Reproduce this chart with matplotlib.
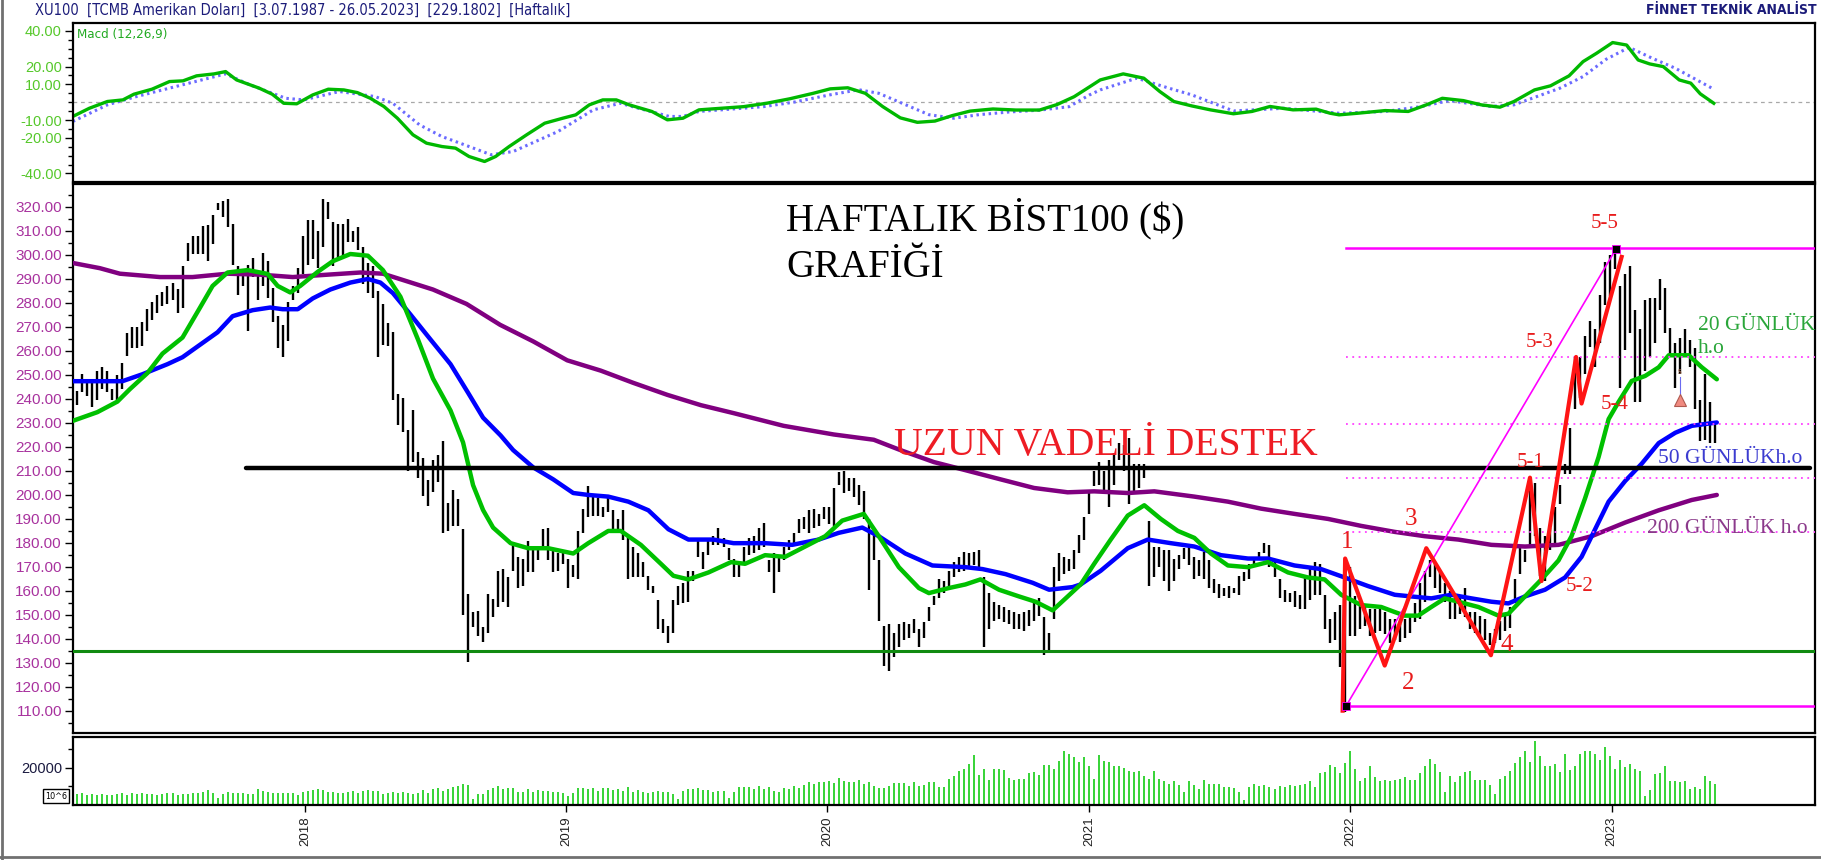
import numpy as np
import pandas as pd
import matplotlib
matplotlib.use("Agg")
import matplotlib.pyplot as plt
import matplotlib.dates as mdates
from matplotlib.ticker import FixedLocator, MultipleLocator, FuncFormatter
from matplotlib.lines import Line2D

first_week = pd.Timestamp("2017-02-17")

# weekly bars (high / low)
highs = [243.3, 250.2, 247.0, 248.0, 251.4, 253.2, 251.7, 244.0, 250.0, 255.0,
         267.4, 270.0, 270.0, 272.0, 277.3, 280.3, 283.3, 284.3, 287.0, 288.1,
         285.8, 295.1, 305.0, 307.7, 307.7, 312.0, 312.4, 316.6, 321.5, 322.5,
         323.3, 312.9, 295.1, 291.4, 295.9, 298.8, 291.4, 300.6, 297.3, 286.2,
         274.4, 270.7, 280.3, 287.0, 294.4, 307.7, 314.4, 314.4, 310.0, 323.3,
         321.8, 313.6, 312.9, 312.9, 315.1, 310.0, 311.4, 303.3, 296.6, 295.1,
         284.7, 279.6, 271.4, 267.7, 241.8, 240.3, 227.0, 235.4, 218.0, 215.1,
         206.2, 214.4, 216.6, 222.5, 196.6, 201.8, 198.0, 185.5, 158.6, 151.0,
         151.4, 144.7, 158.8, 156.6, 168.3, 169.0, 165.5, 179.1, 174.1, 173.4,
         180.5, 177.7, 177.0, 185.6, 186.3, 177.0, 175.5, 175.5, 173.4, 170.5,
         184.9, 194.2, 203.5, 199.9, 198.5, 194.9, 198.5, 193.5, 189.9, 193.5,
         182.7, 178.4, 175.5, 171.9, 166.2, 161.9, 156.1, 148.2, 145.3, 156.1,
         161.9, 163.3, 168.3, 168.3, 180.5, 176.2, 182.0, 182.7, 186.3, 182.0,
         177.7, 173.4, 171.2, 178.4, 182.0, 182.7, 186.3, 188.4, 172.6, 175.5,
         174.1, 178.4, 181.3, 184.1, 189.9, 190.6, 193.5, 194.2, 192.0, 194.9,
         194.9, 202.8, 209.3, 210.0, 207.1, 207.1, 204.2, 201.4, 189.9, 184.1,
         172.6, 145.3, 146.1, 142.5, 146.1, 146.8, 146.1, 148.2, 143.9, 146.8,
         153.2, 157.6, 164.7, 164.0, 168.3, 171.9, 174.1, 176.2, 175.5, 176.2,
         177.0, 165.5, 159.0, 155.4, 154.0, 153.2, 151.8, 151.1, 150.4, 151.1,
         151.8, 155.4, 156.8, 148.9, 142.5, 169.8, 175.5, 174.1, 173.4, 177.0,
         183.4, 190.6, 202.1, 210.0, 213.6, 210.0, 214.3, 217.2, 221.5, 220.8,
         223.6, 212.9, 212.9, 212.9, 189.2, 178.4, 178.4, 177.0, 177.0, 173.4,
         174.8, 177.7, 178.4, 174.1, 172.6, 176.2, 172.6, 164.7, 162.6, 161.1,
         161.9, 161.1, 166.2, 167.6, 171.2, 174.1, 176.2, 179.8, 179.1, 171.9,
         164.7, 160.4, 159.0, 159.7, 158.3, 165.5, 169.0, 171.9, 171.2, 158.3,
         148.2, 151.1, 154.0, 173.4, 169.8, 157.6, 155.4, 154.0, 152.5, 152.5,
         153.2, 151.1, 148.2, 148.2, 146.0, 148.2, 149.6, 154.7, 163.3, 168.3,
         172.6, 171.9, 167.6, 163.3, 159.7, 156.8, 158.3, 161.1, 151.1, 151.1,
         149.6, 148.2, 142.5, 143.9, 147.5, 149.6, 153.2, 164.7, 177.7, 177.0,
         207.1, 205.0, 186.3, 182.7, 186.3, 194.9, 204.2, 212.9, 228.0, 257.4,
         257.4, 266.0, 272.5, 268.9, 283.3, 296.9, 299.8, 301.2, 286.9, 291.9,
         295.5, 276.8, 268.9, 281.1, 281.8, 281.8, 289.7, 286.1, 269.6, 263.2,
         265.3, 268.9, 264.6, 261.0, 239.4, 250.2, 238.7, 230.1]
lows = [237.3, 242.8, 241.0, 236.6, 239.6, 244.0, 242.8, 239.6, 239.6, 244.0,
        258.0, 261.0, 261.0, 261.8, 268.4, 272.9, 275.9, 278.8, 279.5, 281.0,
        275.9, 278.0, 297.3, 300.3, 300.3, 300.3, 297.6, 304.4, 318.5, 315.9,
        311.4, 295.9, 283.3, 287.0, 268.4, 290.7, 281.0, 287.0, 281.8, 272.1,
        261.0, 257.3, 264.0, 281.0, 284.0, 292.1, 295.9, 298.1, 294.4, 303.3,
        315.1, 295.1, 298.1, 299.6, 305.5, 305.5, 301.8, 287.7, 284.0, 281.8,
        257.3, 262.5, 261.8, 239.6, 229.2, 226.2, 210.0, 213.6, 207.0, 199.6,
        195.1, 201.0, 205.5, 184.0, 184.7, 187.0, 187.0, 150.0, 130.3, 144.7,
        141.0, 138.8, 142.5, 149.0, 153.2, 155.4, 153.2, 168.3, 161.1, 161.9,
        167.6, 167.6, 172.6, 177.0, 172.6, 167.6, 168.3, 171.2, 161.1, 165.5,
        164.7, 184.1, 190.6, 191.3, 191.3, 190.6, 192.8, 185.6, 185.6, 181.3,
        164.7, 165.5, 165.5, 165.5, 160.4, 159.0, 143.9, 142.5, 138.2, 142.5,
        153.9, 154.7, 155.4, 164.0, 174.1, 169.0, 174.8, 179.1, 179.1, 178.4,
        172.6, 165.5, 165.5, 170.5, 174.8, 175.5, 177.0, 178.4, 167.6, 159.0,
        167.6, 172.6, 177.0, 179.8, 184.1, 185.6, 184.1, 186.3, 187.0, 189.9,
        187.7, 187.0, 204.2, 200.7, 201.4, 199.2, 195.6, 189.9, 160.4, 172.6,
        147.5, 128.8, 126.7, 132.4, 136.7, 139.6, 140.3, 142.5, 136.7, 140.3,
        147.5, 154.0, 156.8, 159.0, 160.4, 165.5, 167.6, 168.3, 169.8, 170.5,
        169.0, 136.7, 143.9, 147.5, 148.2, 146.8, 146.1, 143.9, 143.9, 143.2,
        145.3, 147.5, 149.6, 133.1, 134.6, 148.2, 164.0, 166.9, 168.3, 169.0,
        175.5, 181.3, 192.0, 203.5, 204.2, 201.4, 194.9, 204.2, 214.3, 210.0,
        196.3, 201.4, 202.8, 207.1, 161.9, 165.5, 169.8, 164.0, 159.7, 164.0,
        169.0, 173.4, 170.5, 164.7, 166.2, 164.7, 161.1, 159.0, 156.8, 157.6,
        156.8, 159.0, 158.3, 164.0, 164.7, 171.2, 173.4, 175.5, 169.8, 165.5,
        156.8, 155.4, 155.4, 153.2, 152.5, 152.5, 156.1, 158.3, 158.3, 143.9,
        138.2, 139.6, 128.1, 109.4, 141.0, 141.0, 143.9, 145.3, 141.0, 142.5,
        143.2, 141.8, 138.2, 139.6, 138.5, 140.3, 142.5, 146.8, 148.2, 155.4,
        165.5, 161.1, 159.0, 155.4, 148.2, 148.2, 150.4, 148.9, 143.9, 142.5,
        141.0, 139.6, 137.4, 138.2, 139.6, 143.2, 144.6, 154.7, 166.9, 171.9,
        177.7, 182.7, 166.2, 164.0, 177.0, 178.4, 196.3, 208.6, 208.6, 235.9,
        240.2, 250.2, 261.7, 253.1, 263.2, 279.0, 282.6, 294.0, 244.5, 260.3,
        267.5, 238.7, 238.7, 251.7, 257.4, 263.2, 276.8, 267.5, 258.8, 244.5,
        250.2, 258.8, 253.1, 235.9, 222.2, 222.9, 221.5, 221.5]

volume = [5800, 6200, 5600, 5800, 5600, 5800, 5200, 5600, 6000, 6200,
          5400, 6300, 5800, 6500, 6000, 6000, 5400, 5800, 6200, 6300,
          5600, 6000, 6000, 6300, 6200, 7200, 8000, 6600, 3800, 6000,
          6800, 6300, 6300, 6200, 6000, 5900, 8300, 7300, 7000, 6600,
          6500, 6600, 6200, 6200, 5600, 6700, 7300, 7800, 8600, 8000,
          7000, 7200, 6400, 6500, 6700, 7300, 6400, 7300, 8000, 7600,
          7600, 6000, 6300, 7000, 6600, 7200, 6300, 5800, 6500, 8000,
          6600, 8400, 9000, 7400, 8600, 9600, 10200, 11000, 10600, 3000,
          6000, 6000, 8200, 9000, 10400, 8500, 9200, 9200, 6800, 6800,
          8400, 6800, 7800, 7500, 7600, 7200, 7000, 6600, 5000, 6400,
          9000, 9000, 8700, 9000, 7300, 9000, 9000, 7800, 8400, 7500,
          9700, 7200, 8000, 6700, 6200, 7000, 7600, 6800, 7200, 6000,
          3400, 7600, 8600, 8300, 9000, 7800, 8200, 6700, 7600, 7300,
          4000, 6800, 9700, 9700, 9700, 8300, 10000, 8300, 9600, 7500,
          6800, 9000, 8800, 10000, 9300, 10800, 12400, 11400, 12400, 12300,
          13000, 12000, 14200, 13000, 12500, 12500, 13200, 11300, 12400, 10300,
          9000, 8900, 10300, 11700, 11700, 12000, 10300,
          12100, 10300, 10800, 12100, 12100, 9400, 9400, 13900, 15700, 18400,
          19300, 22000, 27000, 16200, 19300, 13300, 19300, 19300, 18700, 14400,
          13300, 13900, 13900, 16900, 17500, 16200, 21600, 21600, 19300, 23400,
          28800, 27400, 25600, 22900, 25600, 21100, 13900, 27000, 23800, 22900,
          21100, 21100, 19800, 18000, 17500, 18400, 15700, 13900, 18400, 13900,
          13000, 11200, 13000, 10800, 7200, 13000, 10800, 8500, 13300, 11200,
          11200, 11200, 9700, 9400, 9000, 6700, 2700, 9400, 11200, 10300,
          10800, 9400, 8500, 10300, 9400, 10800, 10300, 10800, 11200, 12600,
          9700, 16900, 17500, 21600, 20200, 16900, 22300, 29200, 19300, 12600,
          14400, 21100, 14800, 13000, 13300, 13000, 13300, 13900, 15100, 13300,
          13300, 16900, 21100, 24700, 22000, 17500, 7200, 15700, 12100, 15700,
          17500, 18400, 13300, 13300, 13300, 10800, 6100, 13900, 15700, 18400,
          22300, 25600, 28800, 22900, 34200, 26500, 21100, 21100, 22000, 17500,
          27400, 18700, 21100, 27400, 28800, 28800, 27400, 24100, 31300, 26500,
          19300, 24100, 20200, 22000, 19300, 18400, 4900, 7900, 16600, 16900,
          21100, 13000, 13000, 12100, 13000, 8500, 9700, 8500, 15700, 13000,
          11500]

# moving averages, read at selected weeks (week index from first_week)
ma20_wk = [-1, 4, 8, 10.5, 14, 17, 21, 24.5, 27, 30, 34, 38, 40, 42.5, 44.5, 48, 51, 54.5, 58, 61,
           64.5, 68, 71, 74.5, 77, 79, 81, 83, 86.5, 90, 94, 99, 102, 106, 108.5, 112.5, 116.5, 119,
           122, 126, 130.5, 133.3, 137.3, 141.3, 145.3, 149.3, 152.7, 157, 160, 164, 168, 170, 174,
           177.3, 180.3, 184, 188, 191.3, 194.7, 197.3, 200.3, 203, 206.3, 209.7, 213, 216.3, 219.7,
           223, 226.3, 229.7, 233.7, 237.7, 241.7, 245.7, 249, 252.3, 256.3, 260.3, 263, 265, 267.7,
           270.3, 273, 275.7, 279.7, 283.7, 285.7, 289, 292.3, 295.7, 298.3, 301, 303.7, 305.7, 307.7,
           310.3, 313, 315.7, 317.7, 321.7, 324.3, 327.3]
ma20 = [230.7, 234.4, 238.8, 244.0, 250.7, 258.8, 265.5, 278.0, 287.0, 292.6, 293.6, 292.0, 287.0,
        284.3, 287.0, 292.9, 297.3, 300.3, 299.6, 293.6, 282.5, 264.7, 248.4, 235.1, 221.8, 204.0,
        193.6, 186.3, 179.8, 177.7, 177.7, 175.5, 179.8, 184.9, 184.9, 179.1, 171.2, 166.2, 164.7,
        167.6, 171.9, 171.2, 174.8, 174.1, 178.4, 182.7, 189.2, 192.0, 182.7, 169.8, 161.1, 159.0,
        161.1, 162.6, 164.7, 160.4, 157.6, 155.4, 151.8, 156.8, 162.6, 171.2, 181.3, 191.3, 195.6,
        189.9, 184.9, 182.0, 175.5, 170.5, 169.8, 171.9, 167.6, 165.5, 164.7, 158.3, 154.0, 153.2,
        151.1, 149.6, 149.6, 153.2, 156.8, 155.4, 153.2, 149.6, 150.4, 157.6, 164.7, 172.6, 182.7,
        198.5, 215.7, 231.5, 238.7, 247.4, 249.5, 253.1, 258.1, 258.1, 253.1, 248.1]

ma50_wk = [-1, 9, 13, 18, 21, 24.5, 28, 31, 35, 38.5, 41, 44, 47, 50.5, 54.5, 58, 60.5, 63, 66.5,
           70.5, 74.5, 78, 81, 84.5, 87, 91, 95, 99, 102, 106, 110, 114, 118, 122, 127, 131, 137.3,
           142.7, 148, 152, 156.7, 160, 165.3, 170.7, 177.3, 180.7, 185.3, 190.7, 194, 198.7, 200.3,
           204.3, 209.7, 213.7, 218.3, 223, 228.3, 233.7, 237.7, 243, 248.3, 253, 257.7, 263, 266.3,
           270.3, 274.3, 278.3, 282.3, 285.7, 289, 293, 297, 300.3, 303, 305.7, 309, 312.3, 315.7,
           319, 322.3, 327.3]
ma50 = [247.3, 247.3, 250.2, 254.4, 257.3, 262.5, 267.7, 274.4, 276.9, 278.0, 277.3, 277.3, 281.8,
        285.5, 288.4, 289.9, 288.4, 284.0, 275.1, 264.7, 254.4, 242.5, 232.1, 224.7, 218.6, 211.4,
        206.4, 200.7, 199.9, 199.2, 197.1, 193.5, 185.6, 181.3, 181.3, 179.8, 179.8, 179.1, 181.3,
        184.1, 186.3, 182.7, 175.5, 170.5, 169.8, 169.0, 166.9, 163.3, 160.4, 161.5, 162.6, 168.3,
        177.7, 181.3, 179.8, 178.4, 174.8, 173.4, 173.4, 170.5, 169.0, 165.5, 161.9, 158.3, 157.6,
        156.8, 158.3, 156.8, 155.4, 154.7, 157.6, 160.4, 165.5, 174.1, 185.6, 197.1, 205.7, 212.9,
        221.5, 225.8, 228.7, 230.1]

ma200_wk = [-1, 4.5, 8.5, 16.5, 23, 30, 36.5, 43, 50, 56.5, 61, 64.5, 71, 77.7, 84.4, 91, 97.8,
            104.5, 111, 117.8, 124.5, 131, 141, 151, 159, 164.3, 171, 177.7, 184.3, 191, 197.7, 203,
            209.7, 215, 223, 229.7, 236.3, 243, 249.7, 256.3, 263, 269, 275.7, 282.3, 289, 295.7,
            302.3, 309, 315.7, 322.3, 327.3]
ma200 = [296.6, 294.4, 292.1, 290.7, 290.7, 292.1, 291.7, 290.7, 291.7, 292.6, 292.1, 289.8, 285.5,
         279.5, 270.8, 263.9, 256.0, 251.7, 246.6, 241.6, 237.3, 234.0, 228.7, 225.1, 222.9, 218.6,
         213.6, 210.0, 206.4, 202.8, 201.0, 201.4, 200.7, 201.4, 199.2, 197.1, 194.2, 192.0, 189.9,
         187.0, 184.5, 182.7, 181.3, 179.1, 178.4, 179.1, 182.7, 188.4, 193.5, 197.8, 199.9]

# MACD (12,26,9) and signal
macd_wk = [-0.9, 2.4, 6.0, 9.1, 11.3, 14.9, 18.4, 21.1, 23.8, 27.3, 29.6, 31.8, 36.3, 38.9, 41.2,
           43.8, 47.0, 50.1, 53.2, 55.9, 58.5, 61.2, 63.9, 67.0, 69.7, 72.8, 75.5, 78.2, 81.3, 83.5,
           86.2, 89.7, 93.3, 96.9, 99.5, 102.2, 104.9, 107.6, 110.2, 114.7, 117.8, 120.9, 124.1,
           133, 137.6, 142.2, 146.9, 150.3, 153.8, 157.3, 160.8, 164.3, 167.7, 171.2, 174.7, 178.2,
           182.8, 187.4, 192.1, 195.6, 199.0, 202.5, 204.2, 208.8, 212.9, 216.1, 218.9, 222.5,
           226.2, 230.8, 234.5, 238.1, 242.7, 247.3, 250.1, 251.9, 255.6, 261.1, 265.7, 269.3,
           272.5, 276.7, 280.3, 284.0, 286.8, 290.9, 294.1, 297.8, 300.6, 303.3, 306.5, 309.3,
           311.6, 313.9, 316.6, 319.8, 322.1, 324.0, 326.7]
macd = [-8.0, -3.4, 0.4, 1.3, 4.5, 7.3, 11.6, 12.0, 14.8, 15.9, 17.2, 12.5, 7.9, 4.5, -0.6,
        -0.9, 4.1, 7.3, 6.9, 5.4, 2.2, -2.4, -9.0, -18.3, -23.0, -24.9, -25.8, -30.5, -33.3, -30.5,
        -24.9, -18.3, -11.8, -9.0, -7.1, -1.5, 1.3, 1.3, -1.5, -5.2, -9.9, -9.0, -4.3,
        -2.5, -0.6, 1.9, 5.0, 7.5, 8.1, 5.0, -2.5, -8.8, -11.3, -10.6, -7.5, -5.0,
        -3.8, -4.4, -4.4, -1.3, 3.1, 9.4, 12.5, 15.9, 13.5, 6.0, 0.4, -2.1,
        -4.3, -6.5, -5.2, -2.4, -4.3, -3.9, -6.2, -7.1, -6.2, -4.7, -5.2, -1.5,
        2.2, 0.9, -1.5, -2.8, 0.4, 6.9, 9.2, 14.8, 22.8, 27.5, 33.5, 32.1,
        23.7, 21.5, 20.0, 12.5, 10.7, 4.7, -0.6]
signal_wk = [-0.9, 6.0, 11.3, 20.2, 29.6, 34.5, 41.6, 45.2, 52.3, 59.4, 63.0, 68.3, 72.8, 76.4,
             82.6, 87.0, 96.0, 103.0, 108.4, 112.0, 118.2, 120.9, 124.1, 130, 137, 143, 150, 156,
             160, 165, 170, 175, 180, 186, 192, 198, 202, 204.2, 211.5, 217.9, 222.5, 230.8,
             240.9, 251.9, 261.1, 268.4, 273.9, 282.1, 286.8, 296.0, 300.6, 305.2, 309.8, 314.4,
             319.0, 326.7]
signal = [-10.8, -1.5, 2.8, 9.2, 15.9, 9.7, 2.2, 1.3, 6.0, 3.2, -0.6, -12.7, -19.3, -23.0,
          -29.5, -27.7, -16.4, -4.3, -0.6, -3.4, -8.0, -8.0, -5.2, -4.0, -2.5, 0.0, 4.0, 7.0,
          5.0, -1.0, -7.0, -9.0, -7.0, -5.5, -4.5, -2.5, 4.0, 6.9, 13.5, 7.9, 4.1, -4.9,
          -3.4, -6.2, -5.2, -2.4, 0.9, -2.4, -1.5, 7.9, 14.4, 24.1, 30.8, 24.7,
          19.1, 7.3]

# hand-drawn analysis objects
wave_wk = [252.6, 253.1, 261.0, 269.3, 282.2, 290.0, 292.3, 299.2, 300.3, 308.3]
wave_val = [110.0, 173.4, 128.8, 177.7, 133.1, 207.1, 164.0, 257.4, 238.0, 299.1]
wave_labels = ["1", "2", "3", "4", "5-1", "5-2", "5-3", "5-4", "5-5"]
wave_label_wk = [253.5, 265.6, 266.3, 285.3, 290.2, 299.9, 292.0, 306.9, 305.0]
wave_label_val = [180.1, 121.5, 189.9, 137.5, 213.5, 161.8, 263.4, 237.7, 313.2]
range_wk = [253.3, 307.2]
range_val = [112.0, 302.5]
fib_levels = [257.2, 229.4, 207.0, 184.6]
support_long = 211.0
support_low = 135.0

def wk(i):
    return mdates.date2num(first_week) + 7 * np.asarray(i, dtype=float)

bar_x = wk(np.arange(len(highs)))
x_left, x_right = wk(-0.86), wk(346.9)

fig = plt.figure(figsize=(18.21, 8.60), dpi=100)
L, W = 0.0401, 0.9566
ax_m = fig.add_axes([L, 0.7884, W, 0.1849])
ax_p = fig.add_axes([L, 0.1477, W, 0.6384], sharex=ax_m)
ax_v = fig.add_axes([L, 0.0640, W, 0.0791], sharex=ax_m)

tick_font = "Liberation Sans"
for ax in (ax_m, ax_p, ax_v):
    for s in ax.spines.values():
        s.set_linewidth(1.6)
        s.set_color("black")
    ax.tick_params(axis="y", which="major", direction="out", length=6, width=1, pad=2)
    ax.tick_params(axis="y", which="minor", direction="out", length=3.5, width=1)
    ax.set_xlim(x_left, x_right)

# --- MACD panel
ax_m.axhline(0, color="#a8a8a8", lw=0.9, ls=(0, (3, 3)))
ax_m.plot(wk(signal_wk), signal, color="#6b6bff", lw=2.2, ls=(0, (0.8, 1.2)))
ax_m.plot(wk(macd_wk), macd, color="#00b800", lw=2.4)
ax_m.set_ylim(-44.8, 44.5)
ax_m.yaxis.set_major_locator(FixedLocator([40, 20, 10, -10, -20, -40]))
ax_m.yaxis.set_minor_locator(MultipleLocator(5))
ax_m.yaxis.set_major_formatter(FuncFormatter(lambda v, p: f"{v:.2f}"))
for t in ax_m.get_yticklabels():
    t.set_color("#55c82a")
    t.set_fontsize(10.5)
    t.set_family(tick_font)
ax_m.text(0.002, 0.93, "Macd (12,26,9)", transform=ax_m.transAxes, color="#22aa22",
          fontsize=9.5, va="center", ha="left", family="DejaVu Sans", fontstretch="condensed")
ax_m.tick_params(axis="x", bottom=False, labelbottom=False)

# --- price panel
ax_p.vlines(bar_x, lows, highs, color="black", lw=1.7, zorder=2)
ax_p.plot(wk(ma200_wk), ma200, color="#800080", lw=3.2, zorder=3, solid_capstyle="round")
ax_p.plot(wk(ma50_wk), ma50, color="#0000ff", lw=3.2, zorder=3, solid_capstyle="round")
ax_p.plot(wk(ma20_wk), ma20, color="#00c000", lw=3.2, zorder=3, solid_capstyle="round")

ax_p.axhline(support_low, color="#108a10", lw=2.2, zorder=4)
ax_p.plot([wk(33.7), wk(346)], [support_long, support_long], color="black", lw=3.2,
          zorder=4, solid_capstyle="round")

for lv in fib_levels:
    ax_p.plot([wk(range_wk[0]), x_right], [lv, lv], color="#ff40ff", lw=1.3,
              ls=(0, (1, 2.5)), zorder=3)
for lv in range_val:
    ax_p.plot([wk(range_wk[0]), x_right], [lv + 0.5 if lv > 200 else lv, lv + 0.5 if lv > 200 else lv],
              color="#ff00ff", lw=1.8, zorder=4)
ax_p.plot(wk(range_wk), range_val, color="#ff00ff", lw=1.2, zorder=4)
ax_p.plot(wk(range_wk), range_val, ls="none", marker="s", ms=5.5, color="black",
          markeredgecolor="#ff00ff", markeredgewidth=0.6, zorder=6)

ax_p.plot(wk(wave_wk), wave_val, color="#ff1414", lw=3.0, zorder=5)
for lab, xi, yv in zip(wave_labels, wave_label_wk, wave_label_val):
    ax_p.text(wk(xi), yv, lab, color="#e81c1c", family="Liberation Serif",
              fontsize=18 if len(lab) == 1 else 15, ha="center", va="center", zorder=7)

# small alert marker
ax_p.plot([wk(319.9), wk(319.9)], [242.0, 249.0], color="#6a6af0", lw=0.8, zorder=6)
ax_p.plot(wk(319.9), 239.5, marker="^", ms=9, color="#f08a80", markeredgecolor="#b05a50",
          markeredgewidth=0.8, zorder=6)
ax_p.text(wk(319.9), 251.5, "s", color="#b07050", fontsize=7, ha="center", va="center",
          family="Liberation Serif", zorder=6)

ax_p.text(wk(141.5), 310.3, "HAFTALIK BİST100 ($)", color="black", fontsize=28,
          family="Liberation Serif", ha="left", va="baseline", zorder=7)
ax_p.text(wk(141.5), 290.8, "GRAFİĞİ", color="black", fontsize=28,
          family="Liberation Serif", ha="left", va="baseline", zorder=7)
ax_p.text(wk(163.0), 216.5, "UZUN VADELİ DESTEK", color="#ee1c24", fontsize=28.5,
          family="Liberation Serif", ha="left", va="baseline", zorder=7)

ax_p.text(wk(323.6), 270.7, "20 GÜNLÜK", color="#2aa63a", fontsize=15.5,
          family="Liberation Serif", ha="left", va="center", zorder=7)
ax_p.text(wk(323.6), 261.0, "h.o", color="#2aa63a", fontsize=15.5,
          family="Liberation Serif", ha="left", va="center", zorder=7)
ax_p.text(wk(315.6), 214.9, "50 GÜNLÜKh.o", color="#3c3cd0", fontsize=15.5,
          family="Liberation Serif", ha="left", va="center", zorder=7)
ax_p.text(wk(313.4), 186.0, "200 GÜNLÜK h.o", color="#8b3a8b", fontsize=15.5,
          family="Liberation Serif", ha="left", va="center", zorder=7)

ax_p.set_ylim(100.7, 329.5)
ax_p.yaxis.set_major_locator(MultipleLocator(10))
ax_p.yaxis.set_minor_locator(MultipleLocator(5))
ax_p.yaxis.set_major_formatter(FuncFormatter(lambda v, p: f"{v:.2f}" if 105 < v < 325 else ""))
for t in ax_p.get_yticklabels():
    t.set_color("#a8329e")
    t.set_fontsize(11)
    t.set_family(tick_font)
ax_p.tick_params(axis="x", bottom=False, labelbottom=False)

# --- volume panel
ax_v.vlines(bar_x, 0, volume, color="#00c800", lw=1.1)
ax_v.set_ylim(0, 36500)
ax_v.yaxis.set_major_locator(FixedLocator([20000]))
ax_v.yaxis.set_minor_locator(FixedLocator([10000, 30000]))
ax_v.yaxis.set_major_formatter(FuncFormatter(lambda v, p: f"{v:.0f}"))
for t in ax_v.get_yticklabels():
    t.set_color("#1a1a40")
    t.set_fontsize(10.5)
    t.set_family(tick_font)
ax_v.xaxis.set_major_locator(mdates.YearLocator())
ax_v.xaxis.set_major_formatter(mdates.DateFormatter("%Y"))
ax_v.tick_params(axis="x", direction="out", length=5, width=1, pad=3)
for t in ax_v.get_xticklabels():
    t.set_rotation(90)
    t.set_fontsize(9.5)
    t.set_family(tick_font)
    t.set_color("#202020")

fig.text(0.0308, 0.0744, "10^6", fontsize=6.5, ha="center", va="center", family="DejaVu Sans",
         fontstretch="condensed",
         bbox=dict(boxstyle="square,pad=0.25", facecolor="white", edgecolor="black", lw=1))

# header
fig.text(0.0192, 0.988, "XU100  [TCMB Amerikan Doları]  [3.07.1987 - 26.05.2023]  [229.1802]  [Haftalık]",
         color="#1c1c7a", fontsize=10.5, ha="left", va="center", family="DejaVu Sans",
         fontstretch="condensed")
fig.text(0.9978, 0.988, "FİNNET TEKNİK ANALİST", color="#1c1c7a", fontsize=10,
         fontweight="bold", ha="right", va="center", family="DejaVu Sans",
         fontstretch="condensed")

# outer frame
fig.add_artist(Line2D([0.0012, 0.0012], [0.0, 1.0], transform=fig.transFigure, color="#707070", lw=2))
fig.add_artist(Line2D([0.0, 1.0], [0.004, 0.004], transform=fig.transFigure, color="#707070", lw=2))

fig.savefig("out.png", dpi=100)
